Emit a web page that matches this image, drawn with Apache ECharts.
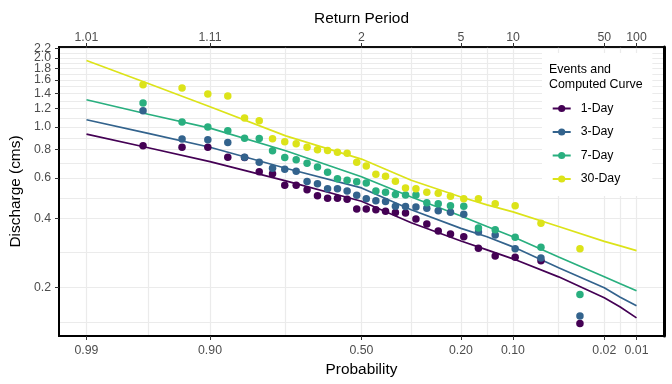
<!DOCTYPE html>
<html><head><meta charset="utf-8">
<script src="https://cdn.jsdelivr.net/npm/echarts@6/dist/echarts.min.js"></script>
<style>html,body{margin:0;padding:0;background:#fff}#c{width:672px;height:384px}</style>
</head><body><div id="c"></div>
<script>
// ---------------- data ----------------
const seriesNames = ['1-Day', '3-Day', '7-Day', '30-Day'];
const colors = ['#440154', '#33638D', '#29AF7F', '#DCE319'];

// exceedance probability of each ranked event (left to right)
const eventProb = [0.9677,0.9355,0.9032,0.8710,0.8387,0.8065,0.7742,0.7419,0.7097,0.6774,
                   0.6452,0.6129,0.5806,0.5484,0.5161,0.4839,0.4516,0.4194,0.3871,0.3548,
                   0.3226,0.2903,0.2581,0.2258,0.1935,0.1613,0.1290,0.0968,0.0645,0.0323];
const events1Day  = [0.827,0.816,0.816,0.738,0.735,0.637,0.624,0.557,0.557,0.532,0.501,0.489,0.489,0.484,0.439,
                     0.439,0.435,0.429,0.423,0.421,0.397,0.377,0.352,0.341,0.332,0.296,0.274,0.270,0.261,0.139];
const events3Day  = [1.176,0.885,0.878,0.855,0.738,0.702,0.661,0.654,0.641,0.578,0.565,0.538,0.537,0.525,0.504,
                     0.486,0.476,0.473,0.451,0.450,0.447,0.442,0.431,0.425,0.416,0.348,0.338,0.294,0.268,0.150];
const events7Day  = [1.270,1.050,0.998,0.962,0.893,0.889,0.787,0.735,0.719,0.695,0.668,0.635,0.594,0.586,0.576,
                     0.569,0.526,0.519,0.507,0.505,0.505,0.467,0.462,0.453,0.451,0.362,0.356,0.330,0.299,0.186];
const events30Day = [1.526,1.477,1.391,1.363,1.093,1.063,0.887,0.861,0.844,0.816,0.794,0.789,0.776,0.768,0.702,
                     0.675,0.622,0.610,0.580,0.541,0.538,0.519,0.514,0.499,0.486,0.486,0.462,0.453,0.380,0.294];

// computed frequency curves
const curveProb   = [0.99,0.9644,0.90,0.7392,0.50,0.337,0.20,0.1442,0.10,0.0477,0.02,0.0143,0.01];
const curve1Day   = [0.930,0.811,0.706,0.582,0.474,0.382,0.318,0.291,0.266,0.222,0.180,0.164,0.147];
const curve3Day   = [1.074,0.937,0.815,0.660,0.542,0.435,0.361,0.332,0.300,0.243,0.199,0.181,0.166];
const curve7Day   = [1.313,1.135,0.988,0.787,0.606,0.495,0.409,0.368,0.332,0.271,0.222,0.207,0.193];
const curve30Day  = [1.948,1.546,1.223,0.914,0.724,0.585,0.495,0.457,0.426,0.368,0.317,0.303,0.289];

// axis ticks
const probTicks = [0.99, 0.90, 0.50, 0.20, 0.10, 0.02, 0.01];
const probTickLabels = ['0.99', '0.90', '0.50', '0.20', '0.10', '0.02', '0.01'];
const returnPeriodLabels = ['1.01', '1.11', '2', '5', '10', '50', '100'];
const dischargeTicks = [0.2, 0.4, 0.6, 0.8, 1.0, 1.2, 1.4, 1.6, 1.8, 2.0, 2.2];
const dischargeTickLabels = ['0.2','0.4','0.6','0.8','1.0','1.2','1.4','1.6','1.8','2.0','2.2'];

const eventSets = [events1Day, events3Day, events7Day, events30Day];
const curveSets = [curve1Day, curve3Day, curve7Day, curve30Day];

// ---------------- scales ----------------
function qnorm(p) {
  const a=[-3.969683028665376e+01,2.209460984245205e+02,-2.759285104469687e+02,1.383577518672690e+02,-3.066479806614716e+01,2.506628277459239e+00];
  const b=[-5.447609879822406e+01,1.615858368580409e+02,-1.556989798598866e+02,6.680131188771972e+01,-1.328068155288572e+01];
  const c=[-7.784894002430293e-03,-3.223964580411365e-01,-2.400758277161838e+00,-2.549732539343734e+00,4.374664141464968e+00,2.938163982698783e+00];
  const d=[7.784695709041462e-03,3.224671290700398e-01,2.445134137142996e+00,3.754408661907416e+00];
  const pl = 0.02425, ph = 1 - pl; let q, r;
  if (p < pl) { q = Math.sqrt(-2*Math.log(p)); return (((((c[0]*q+c[1])*q+c[2])*q+c[3])*q+c[4])*q+c[5])/((((d[0]*q+d[1])*q+d[2])*q+d[3])*q+1); }
  if (p <= ph) { q = p-0.5; r = q*q; return (((((a[0]*r+a[1])*r+a[2])*r+a[3])*r+a[4])*r+a[5])*q/(((((b[0]*r+b[1])*r+b[2])*r+b[3])*r+b[4])*r+1); }
  q = Math.sqrt(-2*Math.log(1-p)); return -(((((c[0]*q+c[1])*q+c[2])*q+c[3])*q+c[4])*q+c[5])/((((d[0]*q+d[1])*q+d[2])*q+d[3])*q+1);
}
const probToAxis = p => qnorm(1 - p);       // probability (exceedance) -> normal-probability axis
const qToAxis = v => Math.log10(v);          // discharge -> log axis

const xMajor = probTicks.map(probToAxis);
const xMinor = xMajor.slice(1).map((v, i) => (v + xMajor[i]) / 2);
const yMajor = dischargeTicks.map(qToAxis);
const yMinor = yMajor.slice(1).map((v, i) => (v + yMajor[i]) / 2);
yMinor.unshift(yMajor[0] - (yMajor[1] - yMajor[0]) / 2);
const yMajorEven = yMajor.filter((v, i) => i % 2 === 0);
const yMajorOdd = yMajor.filter((v, i) => i % 2 === 1);
const xHalf = Math.abs(xMajor[0]) * 1.1;
const yMin = -0.9115, yMax = 0.3482;

function nearestLabel(v, ticks, labels) {
  let bi = 0, bd = Infinity;
  ticks.forEach((t, i) => { const dd = Math.abs(t - v); if (dd < bd) { bd = dd; bi = i; } });
  return labels[bi];
}

const FONT = '"Liberation Sans", Arial, sans-serif';
const tickLabel = { fontFamily: FONT, fontSize: 12.3, color: '#4D4D4D', hideOverlap: false, showMinLabel: true, showMaxLabel: true };
const titleStyle = { fontFamily: FONT, fontSize: 15.4, color: '#000' };

const lineSeries = seriesNames.map((name, k) => ({
  name, type: 'line', xAxisIndex: 0, yAxisIndex: 0,
  data: curveProb.map((p, i) => [probToAxis(p), qToAxis(curveSets[k][i])]),
  showSymbol: false, symbol: 'circle', symbolSize: 7,
  lineStyle: { color: colors[k], width: 1.7 }, itemStyle: { color: colors[k] },
  silent: true, z: 2
}));
const pointSeries = seriesNames.map((name, k) => ({
  name, type: 'scatter', xAxisIndex: 0, yAxisIndex: 0,
  data: eventProb.map((p, i) => [probToAxis(p), qToAxis(eventSets[k][i])]),
  symbol: 'circle', symbolSize: 7.5, itemStyle: { color: colors[k], opacity: 1 },
  silent: true, z: 3
}));

const yLabelAxis = (vals, withLine, withName) => ({
  type: 'value', position: 'left', min: yMin, max: yMax,
  axisLine: { show: withLine, onZero: false, lineStyle: { color: '#000', width: 2 } },
  axisTick: { show: true, customValues: vals, length: 4, lineStyle: { color: '#333', width: 1 } },
  axisLabel: { show: true, customValues: vals, margin: 8, ...tickLabel,
    formatter: v => nearestLabel(v, yMajor, dischargeTickLabels) },
  splitLine: { show: false },
  name: withName ? 'Discharge (cms)' : '', nameLocation: 'middle', nameGap: 30, nameRotate: 90, nameTextStyle: titleStyle
});

const chart = echarts.init(document.getElementById('c'), null, { renderer: 'canvas' });
chart.setOption({
  animation: false,
  backgroundColor: '#fff',
  grid: { left: 52, right: 8, top: 47, bottom: 48, show: true, borderColor: '#000', borderWidth: 1.5, containLabel: false },
  title: {
    text: 'Events and\nComputed Curve', left: 549, top: 62.5, padding: 0,
    textStyle: { fontFamily: FONT, fontSize: 12.4, fontWeight: 'normal', color: '#000', lineHeight: 14.5 }
  },
  legend: {
    orient: 'vertical', left: 542, top: 53,
    padding: [48.5, 32, 10, 9.7],
    backgroundColor: '#fff',
    itemWidth: 18, itemHeight: 9, itemGap: 9.5,
    data: seriesNames,
    textStyle: { fontFamily: FONT, fontSize: 12.3, color: '#000', lineHeight: 14, padding: [0, 0, 0, 5] }
  },
  xAxis: [
    {
      type: 'value', position: 'bottom', min: -xHalf, max: xHalf,
      axisLine: { show: true, onZero: false, lineStyle: { color: '#000', width: 2 } },
      axisTick: { show: true, customValues: xMajor, length: 4, lineStyle: { color: '#333', width: 1 } },
      axisLabel: { show: true, customValues: xMajor, margin: 9, ...tickLabel,
        formatter: v => nearestLabel(v, xMajor, probTickLabels) },
      splitLine: { show: false },
      name: 'Probability', nameLocation: 'middle', nameGap: 26, nameTextStyle: titleStyle
    },
    {
      type: 'value', position: 'top', min: -xHalf, max: xHalf,
      axisLine: { show: true, onZero: false, lineStyle: { color: '#000', width: 1.5 } },
      axisTick: { show: true, customValues: xMajor, length: 4, lineStyle: { color: '#333', width: 1 } },
      axisLabel: { show: true, customValues: xMajor, margin: 3.5, ...tickLabel,
        formatter: v => nearestLabel(v, xMajor, returnPeriodLabels) },
      splitLine: { show: false },
      name: 'Return Period', nameLocation: 'middle', nameGap: 19, nameTextStyle: titleStyle
    },
    {
      type: 'value', position: 'bottom', min: -xHalf, max: xHalf,
      axisLine: { show: false }, axisLabel: { show: false },
      axisTick: { show: false, customValues: xMajor.concat(xMinor) },
      splitLine: { show: true, lineStyle: { color: '#EBEBEB', width: 1.2 } }
    }
  ],
  yAxis: [
    yLabelAxis(yMajorEven, true, true),
    {
      type: 'value', position: 'left', min: yMin, max: yMax,
      axisLine: { show: false }, axisLabel: { show: false },
      axisTick: { show: false, customValues: yMajor.concat(yMinor) },
      splitLine: { show: true, lineStyle: { color: '#EBEBEB', width: 1.2 } }
    },
    {
      type: 'value', position: 'right', min: yMin, max: yMax,
      axisLine: { show: true, onZero: false, lineStyle: { color: '#000', width: 3 } },
      axisTick: { show: false }, axisLabel: { show: false }, splitLine: { show: false }
    },
    yLabelAxis(yMajorOdd, false, false)
  ],
  series: lineSeries.concat(pointSeries)
});
</script></body></html>
